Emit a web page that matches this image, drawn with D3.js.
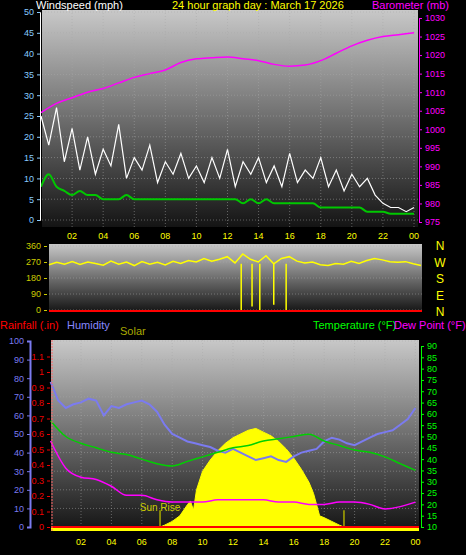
<!DOCTYPE html>
<html>
<head>
<meta charset="UTF-8">
<script src="https://cdn.jsdelivr.net/npm/d3@7"></script>
<style>
  body { margin: 0; background: #000; }
  text { font-family: "Liberation Sans", Arial, sans-serif; }
</style>
</head>
<body>
<script>
// ---- data ----
var hoursHalf = d3.range(0, 24.01, 0.5);
var hoursFull = d3.range(0, 25);
var windGust = [25,18,27,14,22,12,20,11,17,13,23,10,15,12,18,9,14,11,16,10,13,9,15,10,17,8,14,11,15,9,13,8,16,9,12,10,15,8,12,7,11,8,10,6,4,3,3,2,3];
var windAvg = [8,11,8,7,6,7,6,6,5,5,5,6,5,5,5,5,5,5,5,5,5,5,5,5,5,5,4,5,4,5,4,4,4,4,4,4,3,3,3,3,3,3,2,2,2,1.5,1.5,1.5,1.5];
var baro = [1004.5,1007,1008.5,1010,1011,1012.5,1014,1015,1016,1018,1019,1019.3,1019.5,1019,1018.5,1017.5,1017,1017.3,1018.5,1020.5,1022.5,1024,1025,1025.5,1026];
var windDir = [255,268,258,272,256,270,262,252,275,258,270,250,272,258,268,254,274,262,278,270,290,275,285,300,265,315,285,270,305,260,290,300,275,265,270,255,250,262,258,274,262,278,290,282,272,268,272,260,250];
var dirSpikes = [[12.4,0],[13.1,20],[13.6,0],[14.5,30],[15.3,0]];
var humidity = [78,68,64,66,67,69,68,60,65,64,66,67,68,66,62,55,50,48,46,45,44,43,41,40,42,40,38,36,37,38,36,35,38,40,41,42,46,48,47,45,44,46,48,50,51,52,55,58,64];
var temperature = [57,50,47,45,43,42,40,38,37,39,41,43,45,46,48,49,50,51,48,46,44,43,41,38,35];
var dewPoint = [48,36,32,31,28,24,24,22,21,21,21,22,22,22,22,21,21,20,20,21,21,20,18,19,21];
var solarHours = [7.2,7.5,8,8.5,9,9.2,9.4,9.6,10,10.5,11,11.5,12,12.5,13,13.5,14,14.5,15,15.5,16,16.5,17,17.3,17.5,17.7,18,18.5,19,19.3];
var solar = [0,1,3,6,12,14,9,20,30,36,41,45,48,50,52,53,51,49,46,42,37,31,24,18,12,6,5,3,1,0];
var hourLabels = ["02","04","06","08","10","12","14","16","18","20","22","00"];
var windTicks = [0,5,10,15,20,25,30,35,40,45,50];
var baroTicks = [975,980,985,990,995,1000,1005,1010,1015,1020,1025,1030];
var dirTicks = [0,90,180,270,360];
var compass = ["N","W","S","E","N"];
var humTicks = [0,10,20,30,40,50,60,70,80,90,100];
var rainTicks = [0,0.1,0.2,0.3,0.4,0.5,0.6,0.7,0.8,0.9,1,1.1];
var tempTicks = [10,15,20,25,30,35,40,45,50,55,60,65,70,75,80,85,90];

var svg = d3.select("body").append("svg").attr("width", 466).attr("height", 555);
var defs = svg.append("defs");
var grad = defs.append("linearGradient").attr("id", "bg").attr("x1", 0).attr("y1", 0).attr("x2", 0).attr("y2", 1);
grad.append("stop").attr("offset", "0%").attr("stop-color", "#c8c8c8");
grad.append("stop").attr("offset", "100%").attr("stop-color", "#141414");

function panel(x0, x1, y0, y1) {
  svg.append("rect").attr("x", x0).attr("y", y0).attr("width", x1 - x0).attr("height", y1 - y0).attr("fill", "url(#bg)");
}
function grid(xs, ys, hs, x0, x1, y0, y1) {
  var g = svg.append("g").attr("stroke", "#aaa").attr("stroke-opacity", 0.5).attr("stroke-dasharray", "1,2");
  hs.forEach(function(h) { g.append("line").attr("x1", xs(h)).attr("x2", xs(h)).attr("y1", y0).attr("y2", y1); });
  ys.forEach(function(v) { g.append("line").attr("x1", x0).attr("x2", x1).attr("y1", v).attr("y2", v); });
}
function axisStyle(g, color) {
  g.selectAll("path").attr("stroke", color);
  g.selectAll("line").attr("stroke", color);
  g.selectAll("text").attr("fill", color).style("font-size", "9px");
}
var gridHours = d3.range(2, 25, 2);
var fmtPlain = function(d) { return String(+d.toFixed(1)); };

// ---- top panel ----
var xT = d3.scaleLinear().domain([0, 24]).range([41, 414]);
var yW = d3.scaleLinear().domain([0, 50]).range([220, 12]);
var yB = d3.scaleLinear().domain([975, 1030]).range([222, 18]);
panel(42, 418, 10, 227);
grid(xT, windTicks.map(yW), gridHours, 42, 418, 10, 227);

svg.append("path").datum(hoursHalf).attr("fill", "none").attr("stroke", "#fff").attr("stroke-width", 1.2)
  .attr("d", d3.line().x(function(h) { return xT(h); }).y(function(h, i) { return yW(windGust[i]); }));
svg.append("path").datum(hoursHalf).attr("fill", "none").attr("stroke", "#00c800").attr("stroke-width", 2)
  .attr("d", d3.line().x(function(h) { return xT(h); }).y(function(h, i) { return yW(windAvg[i]); }).curve(d3.curveMonotoneX));
svg.append("path").datum(hoursFull).attr("fill", "none").attr("stroke", "#ff00ff").attr("stroke-width", 1.5)
  .attr("d", d3.line().x(function(h) { return xT(h); }).y(function(h, i) { return yB(baro[i]); }).curve(d3.curveMonotoneX));

var ga = svg.append("g").attr("transform", "translate(40,0)").call(d3.axisLeft(yW).tickValues(windTicks).tickSize(3));
axisStyle(ga, "#8cf"); ga.select("path").attr("stroke", "#fff");
var gb = svg.append("g").attr("transform", "translate(419,0)").call(d3.axisRight(yB).tickValues(baroTicks).tickSize(3).tickFormat(fmtPlain));
axisStyle(gb, "#ff00ff");

svg.append("text").attr("x", 36).attr("y", 9).attr("fill", "#fff").style("font-size", "11px").text("Windspeed (mph)");
svg.append("text").attr("x", 172).attr("y", 9).attr("fill", "#ff0").style("font-size", "11px").text("24 hour graph day : March 17 2026");
svg.append("text").attr("x", 372).attr("y", 9).attr("fill", "#ff00ff").style("font-size", "11px").text("Barometer (mb)");

hourLabels.forEach(function(l, i) {
  svg.append("text").attr("x", xT((i + 1) * 2)).attr("y", 239).attr("text-anchor", "middle").attr("fill", "#ff0").style("font-size", "9px").text(l);
});

// ---- wind direction panel ----
var xD = d3.scaleLinear().domain([0, 24]).range([49, 421]);
var yD = d3.scaleLinear().domain([0, 360]).range([310, 246]);
panel(49, 422, 244, 312);
grid(xD, dirTicks.map(yD), [], 49, 422, 244, 312);
svg.append("path").datum(hoursHalf).attr("fill", "none").attr("stroke", "#ff0").attr("stroke-width", 1.5)
  .attr("d", d3.line().x(function(h) { return xD(h); }).y(function(h, i) { return yD(windDir[i]); }));
dirSpikes.forEach(function(s) {
  svg.append("line").attr("x1", xD(s[0])).attr("x2", xD(s[0])).attr("y1", yD(260)).attr("y2", yD(s[1])).attr("stroke", "#ff0").attr("stroke-width", 1.5);
});
svg.append("line").attr("x1", 49).attr("x2", 422).attr("y1", yD(0) + 1).attr("y2", yD(0) + 1).attr("stroke", "#f00").attr("stroke-width", 2);
var gd = svg.append("g").attr("transform", "translate(47,0)").call(d3.axisLeft(yD).tickValues(dirTicks).tickSize(3));
axisStyle(gd, "#cc0"); gd.select("path").attr("stroke", "none");
compass.forEach(function(c, i) {
  svg.append("text").attr("x", 440).attr("y", 250 + i * 16.5).attr("text-anchor", "middle").attr("fill", "#ff0").style("font-size", "12px").text(c);
});

// ---- bottom panel ----
var xB = d3.scaleLinear().domain([0, 24]).range([50.6, 415.4]);
var yH = d3.scaleLinear().domain([0, 100]).range([527, 341]);
var yR = d3.scaleLinear().domain([0, 1.2]).range([527, 341]);
var yTp = d3.scaleLinear().domain([10, 90]).range([527, 346]);
panel(51, 419, 340, 531);
grid(xB, humTicks.map(yH), gridHours, 51, 419, 340, 531);

svg.append("path").datum(solarHours).attr("fill", "#ff0").attr("stroke", "#ff0")
  .attr("d", d3.area().x(function(h) { return xB(h); }).y0(yH(0)).y1(function(h, i) { return yH(solar[i]); }));
[7.2, 19.3].forEach(function(h) {
  svg.append("line").attr("x1", xB(h)).attr("x2", xB(h)).attr("y1", yH(0)).attr("y2", yH(9)).attr("stroke", "#aa0").attr("stroke-width", 1.5);
});
svg.append("text").attr("x", xB(7.2)).attr("y", 511).attr("text-anchor", "middle").attr("fill", "#cc0").style("font-size", "10px").text("Sun Rise");

svg.append("path").datum(hoursHalf).attr("fill", "none").attr("stroke", "#7b7bf0").attr("stroke-width", 2)
  .attr("d", d3.line().x(function(h) { return xB(h); }).y(function(h, i) { return yH(humidity[i]); }));
svg.append("path").datum(hoursFull).attr("fill", "none").attr("stroke", "#00d000").attr("stroke-width", 1.5)
  .attr("d", d3.line().x(function(h) { return xB(h); }).y(function(h, i) { return yTp(temperature[i]); }).curve(d3.curveMonotoneX));
svg.append("path").datum(hoursFull).attr("fill", "none").attr("stroke", "#ff00ff").attr("stroke-width", 1.5)
  .attr("d", d3.line().x(function(h) { return xB(h); }).y(function(h, i) { return yTp(dewPoint[i]); }).curve(d3.curveMonotoneX));

svg.append("rect").attr("x", 51).attr("y", yR(0)).attr("width", 368).attr("height", 4).attr("fill", "#ff0");
svg.append("line").attr("x1", 51).attr("x2", 419).attr("y1", yR(0)).attr("y2", yR(0)).attr("stroke", "#f00").attr("stroke-width", 2);
svg.append("line").attr("x1", 52).attr("x2", 52).attr("y1", 340).attr("y2", 531).attr("stroke", "#f66").attr("stroke-dasharray", "2,1");

var gh = svg.append("g").attr("transform", "translate(30,0)").call(d3.axisLeft(yH).tickValues(humTicks).tickSize(3));
axisStyle(gh, "#7b7bf0"); gh.select("path").attr("stroke-width", 2);
var gr = svg.append("g").attr("transform", "translate(50,0)").call(d3.axisLeft(yR).tickValues(rainTicks).tickSize(3).tickFormat(fmtPlain));
axisStyle(gr, "#e00"); gr.select("path").attr("stroke", "none");
var gt = svg.append("g").attr("transform", "translate(421,0)").call(d3.axisRight(yTp).tickValues(tempTicks).tickSize(3));
axisStyle(gt, "#0f0");

svg.append("text").attr("x", 0).attr("y", 329).attr("fill", "#f00").style("font-size", "11px").text("Rainfall (.in)");
svg.append("text").attr("x", 67).attr("y", 329).attr("fill", "#8888ff").style("font-size", "11px").text("Humidity");
svg.append("text").attr("x", 120).attr("y", 335).attr("fill", "#aa0").style("font-size", "11px").text("Solar");
svg.append("text").attr("x", 313).attr("y", 329).attr("fill", "#0f0").style("font-size", "11px").text("Temperature (°F)");
svg.append("text").attr("x", 394).attr("y", 329).attr("fill", "#ff00ff").style("font-size", "11px").text("Dew Point (°F)");

hourLabels.forEach(function(l, i) {
  svg.append("text").attr("x", xB((i + 1) * 2)).attr("y", 545).attr("text-anchor", "middle").attr("fill", "#ff0").style("font-size", "9px").text(l);
});
</script>
</body>
</html>
